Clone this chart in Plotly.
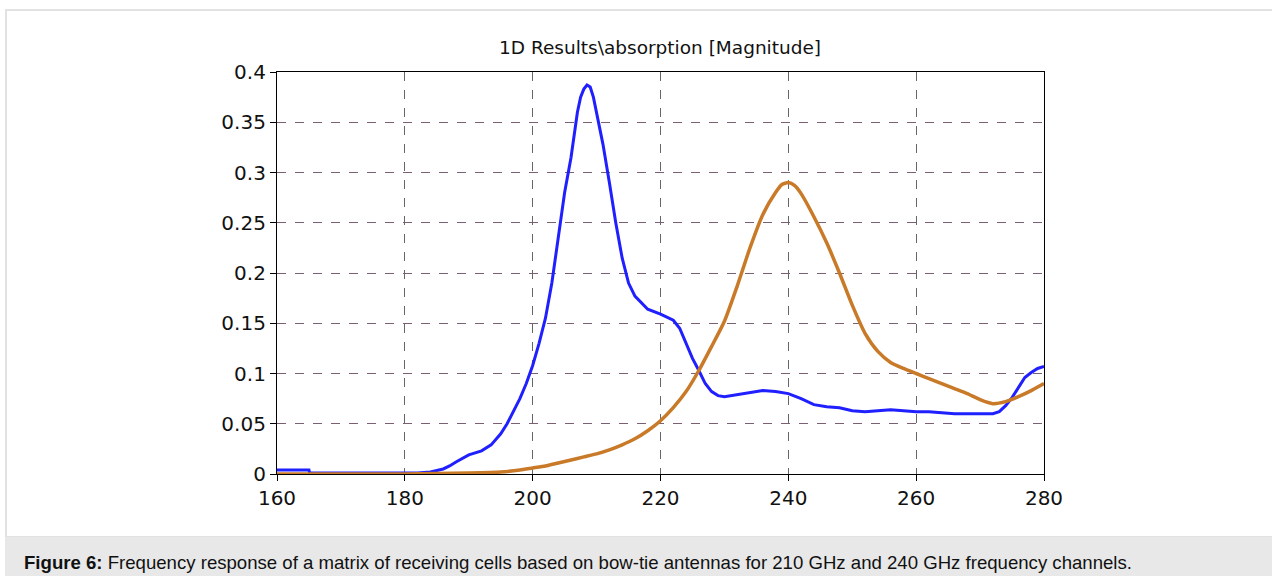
import plotly.graph_objects as go

# Blue curve (210 GHz channel)
freq_blue = [160, 165, 165.1, 180, 182, 184, 186, 187, 188, 190, 192, 193.5, 195, 196, 197, 198, 199, 200,
             201, 202, 203, 204, 205, 206, 206.5, 207, 207.5, 208, 208.5, 209, 209.5, 210, 210.5, 211, 212,
             213, 214, 215, 216, 217, 218, 220, 222, 223, 224, 225, 226, 227, 228, 229, 230, 232, 234, 236,
             238, 240, 242, 244, 246, 248, 250, 252, 254, 256, 258, 260, 262, 264, 266, 268, 270, 272, 273,
             274, 275, 276, 277, 278, 279, 280]
abs_blue = [0.004, 0.004, 0.001, 0.001, 0.001, 0.002, 0.005, 0.008, 0.012, 0.019, 0.023, 0.029, 0.04, 0.05,
            0.062, 0.075, 0.09, 0.108, 0.13, 0.155, 0.19, 0.235, 0.28, 0.315, 0.34, 0.36, 0.375, 0.383, 0.387,
            0.385, 0.375, 0.36, 0.345, 0.328, 0.29, 0.25, 0.215, 0.19, 0.177, 0.17, 0.164, 0.159, 0.153, 0.145,
            0.13, 0.115, 0.103, 0.09, 0.082, 0.078, 0.077, 0.079, 0.081, 0.083, 0.082, 0.08, 0.075, 0.069,
            0.067, 0.066, 0.063, 0.062, 0.063, 0.064, 0.063, 0.062, 0.062, 0.061, 0.06, 0.06, 0.06, 0.06,
            0.062, 0.068, 0.076, 0.086, 0.096, 0.101, 0.105, 0.107]

# Orange curve (240 GHz channel)
freq_orange = [160, 180, 190, 195, 198, 200, 202, 204, 206, 208, 210, 212, 214, 216, 218, 220, 222, 224,
               226, 228, 230, 232, 234, 236, 238, 239, 240, 241, 242, 244, 246, 248, 250, 252, 254, 256, 258,
               260, 262, 264, 266, 268, 270, 272, 274, 276, 278, 280]
abs_orange = [0.0, 0.0, 0.001, 0.002, 0.004, 0.006, 0.008, 0.011, 0.014, 0.017, 0.02, 0.024, 0.029, 0.035,
              0.043, 0.053, 0.066, 0.082, 0.103, 0.127, 0.152, 0.187, 0.225, 0.258, 0.28, 0.288, 0.29, 0.287,
              0.279, 0.256, 0.23, 0.2, 0.168, 0.14, 0.122, 0.111, 0.105, 0.1, 0.095, 0.09, 0.085, 0.08, 0.074,
              0.07, 0.072, 0.077, 0.083, 0.09]

x_ticks = [160, 180, 200, 220, 240, 260, 280]
y_ticks = [0, 0.05, 0.1, 0.15, 0.2, 0.25, 0.3, 0.35, 0.4]
y_tick_text = ["0", "0.05", "0.1", "0.15", "0.2", "0.25", "0.3", "0.35", "0.4"]

title_text = "1D Results\\absorption [Magnitude]"
caption_bold = "Figure 6:"
caption_rest = " Frequency response of a matrix of receiving cells based on bow-tie antennas for 210 GHz and 240 GHz frequency channels."

W, H = 1272, 576
L, R, T, B = 277, 1044, 72, 474

def px(xp):
    return (xp - L) / (R - L)

def py(yp):
    return (B - yp) / (B - T)

fig = go.Figure()
fig.add_trace(go.Scatter(x=freq_blue, y=abs_blue, mode="lines",
                         line=dict(color="#1f1fff", width=3), showlegend=False))
fig.add_trace(go.Scatter(x=freq_orange, y=abs_orange, mode="lines",
                         line=dict(color="#c97a28", width=3.5, shape="spline", smoothing=0.6),
                         showlegend=False))

font_main = "DejaVu Sans"
fig.update_xaxes(range=[160, 280], tickvals=x_ticks, ticks="outside", ticklen=6, tickcolor="black",
                 showline=True, linecolor="black", linewidth=1.2, mirror=True,
                 showgrid=True, gridcolor="#666666", griddash="dash", gridwidth=1,
                 zeroline=False, tickfont=dict(family=font_main, size=20, color="#111"))
fig.update_yaxes(range=[0, 0.4], tickvals=y_ticks, ticktext=y_tick_text, ticks="outside", ticklen=6,
                 tickcolor="black", showline=True, linecolor="black", linewidth=1.2, mirror=True,
                 showgrid=True, gridcolor="#7a6072", griddash="dash", gridwidth=1,
                 zeroline=False, tickfont=dict(family=font_main, size=20, color="#111"))

shapes = [
    # outer light border (top and left)
    dict(type="rect", xref="paper", yref="paper", x0=px(6), x1=px(1290), y0=py(537), y1=py(10),
         line=dict(color="#e2e2e2", width=2), fillcolor="rgba(0,0,0,0)", layer="below"),
    # caption bar
    dict(type="rect", xref="paper", yref="paper", x0=px(5), x1=px(1290), y0=py(600), y1=py(537),
         line=dict(width=0), fillcolor="#e8e8e8", layer="below"),
]

annotations = [
    dict(text=title_text, xref="paper", yref="paper", x=px(660), y=py(47), showarrow=False,
         xanchor="center", yanchor="middle", font=dict(family=font_main, size=18.5, color="#111")),
    dict(text="<b>" + caption_bold + "</b>" + caption_rest, xref="paper", yref="paper",
         x=px(22), y=py(562), showarrow=False, xanchor="left", yanchor="middle",
         font=dict(family="Liberation Sans", size=18.6, color="#111")),
]

fig.update_layout(width=W, height=H, margin=dict(l=L, r=W - R, t=T, b=H - B),
                  paper_bgcolor="white", plot_bgcolor="white",
                  shapes=shapes, annotations=annotations)

fig.write_html("out.html", config={"displayModeBar": False},
               post_script="document.body.style.margin='0';document.body.style.padding='0';")
